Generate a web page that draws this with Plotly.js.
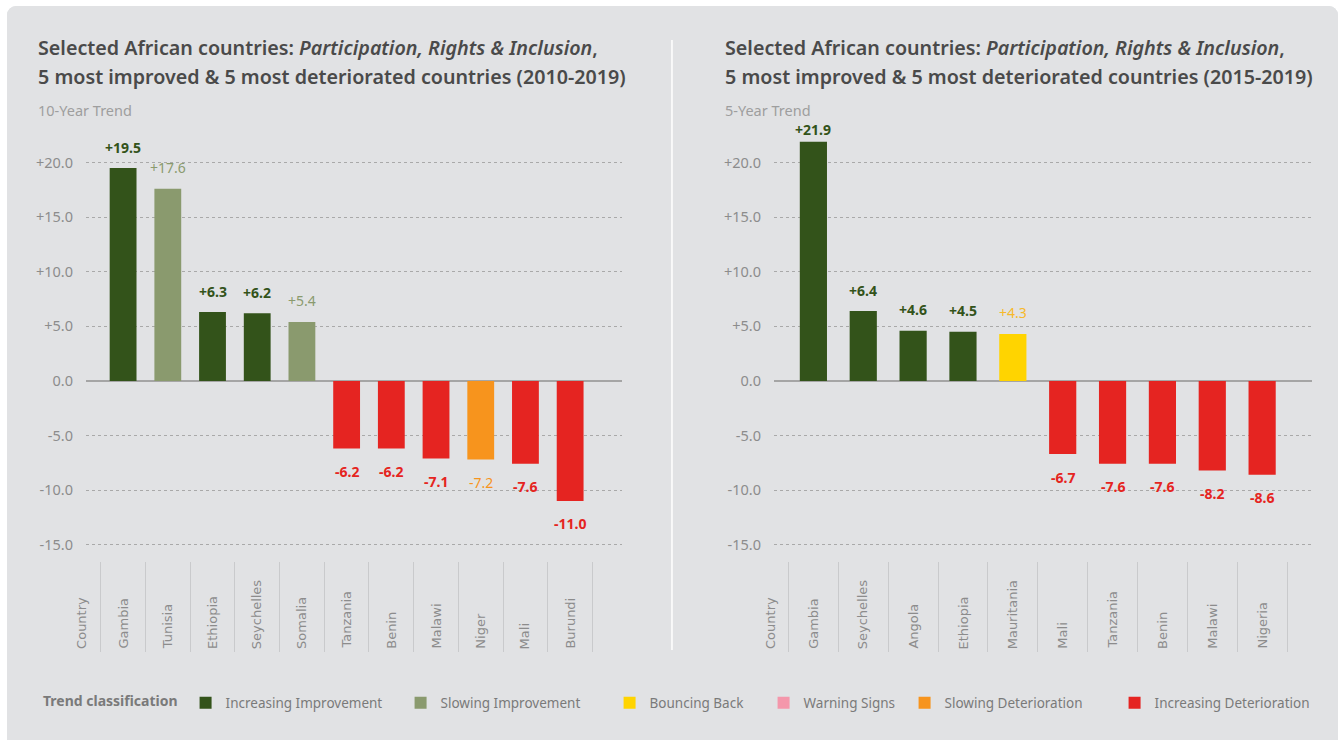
<!DOCTYPE html>
<html>
<head>
<meta charset="utf-8">
<script src="https://cdn.plot.ly/plotly-3.0.1.min.js"></script>
<style>
  body { margin: 0; background: #ffffff; }
  #plot { position: absolute; left: 7px; top: 6px; width: 1331px; height: 734px;
          border-radius: 9px 9px 0 0; overflow: hidden; background: #e1e2e4; }
</style>
</head>
<body>
<div id="plot"></div>
<script>
// 10-year trend (2010-2019)
var countries10 = ['Gambia', 'Tunisia', 'Ethiopia', 'Seychelles', 'Somalia', 'Tanzania', 'Benin', 'Malawi', 'Niger', 'Mali', 'Burundi'];
var values10 = [19.5, 17.6, 6.3, 6.2, 5.4, -6.2, -6.2, -7.1, -7.2, -7.6, -11.0];
var classes10 = ['II', 'SI', 'II', 'II', 'SI', 'ID', 'ID', 'ID', 'SD', 'ID', 'ID'];

// 5-year trend (2015-2019)
var countries5 = ['Gambia', 'Seychelles', 'Angola', 'Ethiopia', 'Mauritania', 'Mali', 'Tanzania', 'Benin', 'Malawi', 'Nigeria'];
var values5 = [21.9, 6.4, 4.6, 4.5, 4.3, -6.7, -7.6, -7.6, -8.2, -8.6];
var classes5 = ['II', 'II', 'II', 'II', 'BB', 'ID', 'ID', 'ID', 'ID', 'ID'];

var yTickVals = [20, 15, 10, 5, 0, -5, -10, -15];
var yTickText = ['+20.0', '+15.0', '+10.0', '+5.0', '0.0', '-5.0', '-10.0', '-15.0'];

var classKeys = ['II', 'SI', 'BB', 'WS', 'SD', 'ID'];
var classNames = ['Increasing Improvement', 'Slowing Improvement', 'Bouncing Back', 'Warning Signs', 'Slowing Deterioration', 'Increasing Deterioration'];
var barColors = {II: '#33531a', SI: '#8a9a6e', BB: '#ffd400', WS: '#f497ab', SD: '#f7941d', ID: '#e52421'};
var labelColors = {II: '#33531a', SI: '#8a9a6e', BB: '#f7b92a', WS: '#f497ab', SD: '#f7941d', ID: '#e52421'};
var boldLabel = {II: true, SI: false, BB: false, WS: false, SD: false, ID: true};
var legendWidths = {II: 170, SI: 164, BB: 109, WS: 96, SD: 165, ID: 160};

var FONT = 'Noto Sans, Open Sans, sans-serif';
var CAT_FONT = 'DejaVu Sans, sans-serif';
var GREY = '#8c8c8c';

var Y_RANGE = [-16.5, 23];
var Y_DOMAIN = [0.2439, 0.8313];
var H = 734;
var PX_PER_UNIT = (Y_DOMAIN[1] - Y_DOMAIN[0]) * H / (Y_RANGE[1] - Y_RANGE[0]);

var traces = [];
var annotations = [];

function addChart(countries, values, classes, xa, ya, barWidth, showLegend) {
  classKeys.forEach(function (k, ci) {
    var xs = [], ys = [];
    countries.forEach(function (c, i) {
      if (classes[i] === k) { xs.push(c); ys.push(values[i]); }
    });
    if (!xs.length && !showLegend) return;
    if (!xs.length) { xs = [null]; ys = [null]; }
    traces.push({
      type: 'bar', x: xs, y: ys, xaxis: xa, yaxis: ya,
      name: classNames[ci], legendgroup: k, showlegend: showLegend,
      legendrank: ci + 1, legendwidth: legendWidths[k], width: barWidth,
      marker: {color: barColors[k]}, hoverinfo: 'x+y'
    });
  });
  // value labels (kept inside the top of the plot area)
  countries.forEach(function (c, i) {
    var v = values[i];
    var k = classes[i];
    var shift = v > 0 ? Math.min(21, (Y_RANGE[1] - v) * PX_PER_UNIT) : -23;
    annotations.push({
      xref: xa, yref: ya, x: c, y: v, showarrow: false,
      text: (v > 0 ? '+' : '') + v.toFixed(1),
      yshift: shift,
      font: {family: FONT, size: 14, color: labelColors[k], weight: boldLabel[k] ? 700 : 400}
    });
    // category labels, rotated and bottom-aligned
    annotations.push({
      xref: xa, yref: 'paper', x: c, y: 0.1213, xanchor: 'center', yanchor: 'bottom', showarrow: false,
      textangle: -90, text: c,
      font: {family: CAT_FONT, size: 13, color: GREY}
    });
  });
}

addChart(countries10, values10, classes10, 'x', 'y', 0.6, true);
addChart(countries5, values5, classes5, 'x2', 'y2', 0.545, false);

// "Country" headers
annotations.push({xref: 'paper', yref: 'paper', x: 0.0563, y: 0.1213, xanchor: 'center', yanchor: 'bottom', showarrow: false,
  textangle: -90, text: 'Country', font: {family: CAT_FONT, size: 13, color: GREY}});
annotations.push({xref: 'paper', yref: 'paper', x: 0.5740, y: 0.1213, xanchor: 'center', yanchor: 'bottom', showarrow: false,
  textangle: -90, text: 'Country', font: {family: CAT_FONT, size: 13, color: GREY}});

// titles
var titleFont = {family: FONT, size: 19.7, color: '#4a4a4a', weight: 600};
[[0.02179, '2010-2019', '10-Year Trend'], [0.5379, '2015-2019', '5-Year Trend']].forEach(function (t) {
  var x = t[0];
  annotations.push({xref: 'paper', yref: 'paper', x: x, y: 0.9428, xanchor: 'left', yanchor: 'middle', showarrow: false,
    text: 'Selected African countries: <i>Participation, Rights & Inclusion</i>,', font: titleFont});
  annotations.push({xref: 'paper', yref: 'paper', x: x, y: 0.9046, xanchor: 'left', yanchor: 'middle', showarrow: false,
    text: '5 most improved & 5 most deteriorated countries (' + t[1] + ')', font: titleFont});
  annotations.push({xref: 'paper', yref: 'paper', x: x, y: 0.8583, xanchor: 'left', yanchor: 'middle', showarrow: false,
    text: t[2], font: {family: FONT, size: 14.5, color: '#9e9e9e'}});
});

function xAxis(domain, range, cats) {
  return {
    domain: domain, range: range, type: 'category',
    categoryorder: 'array', categoryarray: cats,
    showgrid: false, zeroline: false, showline: false,
    ticks: 'outside', tickson: 'boundaries', ticklen: 90, tickwidth: 1, tickcolor: '#c9cacc',
    showticklabels: false, fixedrange: true
  };
}
function yAxis(anchor) {
  return {
    domain: Y_DOMAIN, range: Y_RANGE, anchor: anchor,
    tickvals: yTickVals, ticktext: yTickText, ticks: '', ticklabelstandoff: 12,
    tickfont: {family: FONT, size: 14.5, color: GREY},
    showgrid: true, gridcolor: '#a9a9a9', griddash: 'dot', gridwidth: 1,
    zeroline: true, zerolinecolor: '#a5a5a5', zerolinewidth: 1.5,
    showline: false, fixedrange: true
  };
}

var layout = {
  width: 1331, height: H,
  margin: {l: 0, r: 0, t: 0, b: 0},
  paper_bgcolor: '#e1e2e4', plot_bgcolor: 'rgba(0,0,0,0)',
  barmode: 'overlay',
  showlegend: true,
  font: {family: FONT},
  xaxis: xAxis([0.05935, 0.46206], [-0.83, 11.16], countries10),
  yaxis: yAxis('x'),
  xaxis2: xAxis([0.57626, 0.98046], [-0.79, 10.0], countries5),
  yaxis2: yAxis('x2'),
  legend: {
    orientation: 'h', x: 0.0255, xanchor: 'left', y: 0.0504, yanchor: 'middle',
    bgcolor: 'rgba(0,0,0,0)', traceorder: 'normal',
    font: {family: FONT, size: 13.5, color: '#7a7a7a'},
    title: {text: 'Trend classification', side: 'left',
            font: {family: FONT, size: 14, color: '#7a7a7a', weight: 700}}
  },
  annotations: annotations,
  shapes: [{
    type: 'line', xref: 'paper', yref: 'paper', x0: 0.4996, x1: 0.4996, y0: 0.1226, y1: 0.9537,
    line: {color: '#ffffff', width: 1.5}
  }]
};

Plotly.newPlot('plot', traces, layout, {displayModeBar: false, staticPlot: true});
</script>
</body>
</html>
